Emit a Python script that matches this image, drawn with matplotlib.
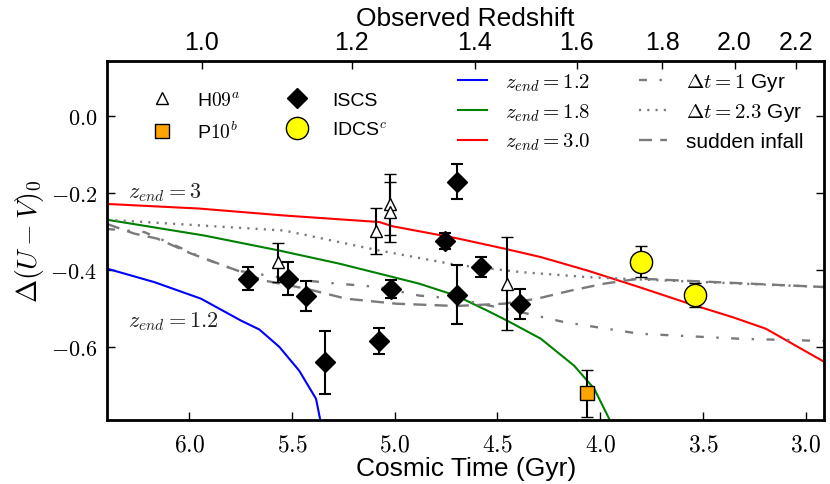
import numpy as np
import matplotlib
matplotlib.use('Agg')
import matplotlib.pyplot as plt
from matplotlib.lines import Line2D

plt.rcParams['font.family'] = ['Liberation Sans', 'DejaVu Sans']
plt.rcParams['mathtext.fontset'] = 'cm'

# data points (cosmic time in Gyr, colour offset, error)
t_iscs = [5.713, 5.518, 5.432, 5.340, 5.078, 5.018, 4.756, 4.699, 4.698, 4.581, 4.389]
c_iscs = [-0.423, -0.423, -0.468, -0.640, -0.584, -0.450, -0.326, -0.171, -0.465, -0.393, -0.489]
e_iscs = [0.030, 0.042, 0.038, 0.082, 0.034, 0.023, 0.021, 0.046, 0.077, 0.027, 0.040]

t_h09 = [5.570, 5.089, 5.023, 5.023, 4.456]
c_h09 = [-0.381, -0.300, -0.230, -0.249, -0.436]
e_h09 = [0.050, 0.060, 0.079, 0.078, 0.120]

t_p10 = [4.062]
c_p10 = [-0.721]
e_p10 = [0.060]

t_idcs = [3.802, 3.539]
c_idcs = [-0.379, -0.465]
e_idcs = [0.040, 0.032]

# model tracks
t_z12 = [6.40, 6.170, 5.943, 5.748, 5.659, 5.562, 5.465, 5.383, 5.355]
c_z12 = [-0.397, -0.432, -0.475, -0.532, -0.555, -0.600, -0.662, -0.735, -0.81]
t_z18 = [6.40, 5.927, 5.562, 5.270, 5.075, 4.881, 4.702, 4.550, 4.453, 4.289, 4.127, 4.029, 3.935]
c_z18 = [-0.270, -0.311, -0.350, -0.384, -0.410, -0.436, -0.467, -0.506, -0.532, -0.579, -0.649, -0.709, -0.81]
t_z30 = [6.40, 5.951, 5.538, 5.075, 5.010, 4.690, 4.467, 4.289, 4.062, 3.810, 3.567, 3.356, 3.194, 2.90]
c_z30 = [-0.229, -0.241, -0.259, -0.276, -0.287, -0.319, -0.345, -0.367, -0.402, -0.445, -0.488, -0.523, -0.553, -0.642]

t_dt1 = [6.40, 6.219, 6.088, 5.927, 5.766, 5.538, 5.319, 5.075, 4.881, 4.702, 4.386, 4.175, 3.810, 3.324, 2.90]
c_dt1 = [-0.294, -0.302, -0.332, -0.371, -0.402, -0.422, -0.434, -0.445, -0.467, -0.475, -0.510, -0.536, -0.566, -0.579, -0.585]
t_dt23 = [6.40, 5.538, 5.075, 4.702, 4.386, 4.063, 3.810, 2.90]
c_dt23 = [-0.270, -0.298, -0.350, -0.387, -0.406, -0.419, -0.425, -0.445]
t_inf = [6.40, 6.268, 6.156, 5.990, 5.878, 5.766, 5.635, 5.432, 5.237, 4.994, 4.702, 4.467, 4.307, 4.143, 3.981, 3.810, 2.90]
c_inf = [-0.281, -0.306, -0.319, -0.358, -0.380, -0.402, -0.428, -0.449, -0.475, -0.488, -0.494, -0.488, -0.475, -0.454, -0.436, -0.423, -0.445]

z_ticks = [1.0, 1.2, 1.4, 1.6, 1.8, 2.0, 2.2]
t_ticks = [6.0, 5.5, 5.0, 4.5, 4.0, 3.5, 3.0]
y_ticks = [0.0, -0.2, -0.4, -0.6]


def age(z, h0=71.0, om=0.27):
    # flat LCDM age of the universe in Gyr
    ol = 1.0 - om
    th = 977.8 / h0
    return 2.0 * th / (3.0 * np.sqrt(ol)) * np.arcsinh(np.sqrt(ol / om) * (1.0 + np.asarray(z)) ** -1.5)


fig = plt.figure(figsize=(8.3, 4.85), dpi=100)
ax = fig.add_axes([0.129, 0.132, 0.864, 0.740])

gray = '#7a7a7a'
dd1 = (0, (3.4, 5.3, 1.0, 5.3))
dd23 = (0, (0.9, 2.6))
ddinf = (0, (5.5, 3.5))
ax.plot(t_z12, c_z12, color='#0000ff', lw=1.5)
ax.plot(t_z18, c_z18, color='#008000', lw=1.5)
ax.plot(t_z30, c_z30, color='#ff0000', lw=1.5)
ax.plot(t_dt1, c_dt1, color=gray, lw=1.7, ls=dd1)
ax.plot(t_dt23, c_dt23, color=gray, lw=1.7, ls=dd23)
ax.plot(t_inf, c_inf, color=gray, lw=1.7, ls=ddinf)

ekw = dict(ecolor='k', elinewidth=1.5, capsize=4.5, capthick=1.5, ls='none')
ax.errorbar(t_h09, c_h09, yerr=e_h09, marker='^', ms=8, mfc='w', mec='k', mew=1, **ekw)
ax.errorbar(t_iscs, c_iscs, yerr=e_iscs, marker='D', ms=10, mfc='k', mec='k', **ekw)
ax.errorbar(t_p10, c_p10, yerr=e_p10, marker='s', ms=10, mfc='#ffa500', mec='k', mew=1, **ekw)
ax.errorbar(t_idcs, c_idcs, yerr=e_idcs, marker='o', ms=16, mfc='#ffff00', mec='k', mew=1, **ekw)

ax.text(6.30, -0.197, r'$z_{end} = 3$', fontsize=16, color='#222222', va='center')
ax.text(6.30, -0.533, r'$z_{end} = 1.2$', fontsize=16, color='#222222', va='center')

ax.set_xlim(6.40, 2.91)
ax.set_ylim(-0.79, 0.142)
ax.set_xticks(t_ticks)
ax.set_xticklabels(['$%.1f$' % v for v in t_ticks], fontsize=17)
ax.set_yticks(y_ticks)
ax.set_yticklabels(['$%.1f$' % v for v in y_ticks], fontsize=16)
ax.tick_params(direction='in', length=6, width=1, top=False, right=True)
ax.tick_params(axis='x', pad=10)
ax.tick_params(axis='y', pad=7)
ax.set_xlabel('Cosmic Time (Gyr)', fontsize=19, labelpad=0)
ax.set_ylabel(r'$\Delta(U-V)_0$', fontsize=20)
ax.yaxis.set_label_coords(-0.085, 0.5)
for s in ax.spines.values():
    s.set_linewidth(2)

top = ax.twiny()
top.set_xlim(ax.get_xlim())
top.set_xticks(age(z_ticks))
top.set_xticklabels(['%.1f' % z for z in z_ticks], fontsize=18)
top.tick_params(direction='in', length=6, width=1, pad=5)
top.set_xlabel('Observed Redshift', fontsize=19, labelpad=4)

pts = [Line2D([], [], ls='none', marker='^', ms=8, mfc='w', mec='k'),
       Line2D([], [], ls='none', marker='s', ms=10, mfc='#ffa500', mec='k'),
       Line2D([], [], ls='none', marker='D', ms=10, mfc='k', mec='k'),
       Line2D([], [], ls='none', marker='o', ms=16, mfc='#ffff00', mec='k')]
leg1 = ax.legend(pts, ['H$09^a$', 'P$10^b$', 'ISCS', 'IDCS$^c$'], ncol=2, frameon=False,
                 fontsize=14, loc='upper left', bbox_to_anchor=(0.05, 0.918),
                 borderpad=0, borderaxespad=0, handlelength=2.0,
                 handletextpad=0.77, columnspacing=1.95, labelspacing=0.64, numpoints=1)
ax.add_artist(leg1)

lns = [Line2D([], [], color='#0000ff', lw=1.5),
       Line2D([], [], color='#008000', lw=1.5),
       Line2D([], [], color='#ff0000', lw=1.5),
       Line2D([], [], color=gray, lw=1.7, ls=dd1),
       Line2D([], [], color=gray, lw=1.7, ls=dd23),
       Line2D([], [], color=gray, lw=1.7, ls=ddinf)]
ax.legend(lns, [r'$z_{end} = 1.2$', r'$z_{end} = 1.8$', r'$z_{end} = 3.0$',
                r'$\Delta t = 1$ Gyr', r'$\Delta t = 2.3$ Gyr', 'sudden infall'],
          ncol=2, frameon=False, fontsize=15, loc='upper left', bbox_to_anchor=(0.49, 0.972),
          borderpad=0, borderaxespad=0,
          handlelength=1.35, handletextpad=0.9, columnspacing=2.3, labelspacing=0.4)

fig.savefig('out.png', dpi=100)
